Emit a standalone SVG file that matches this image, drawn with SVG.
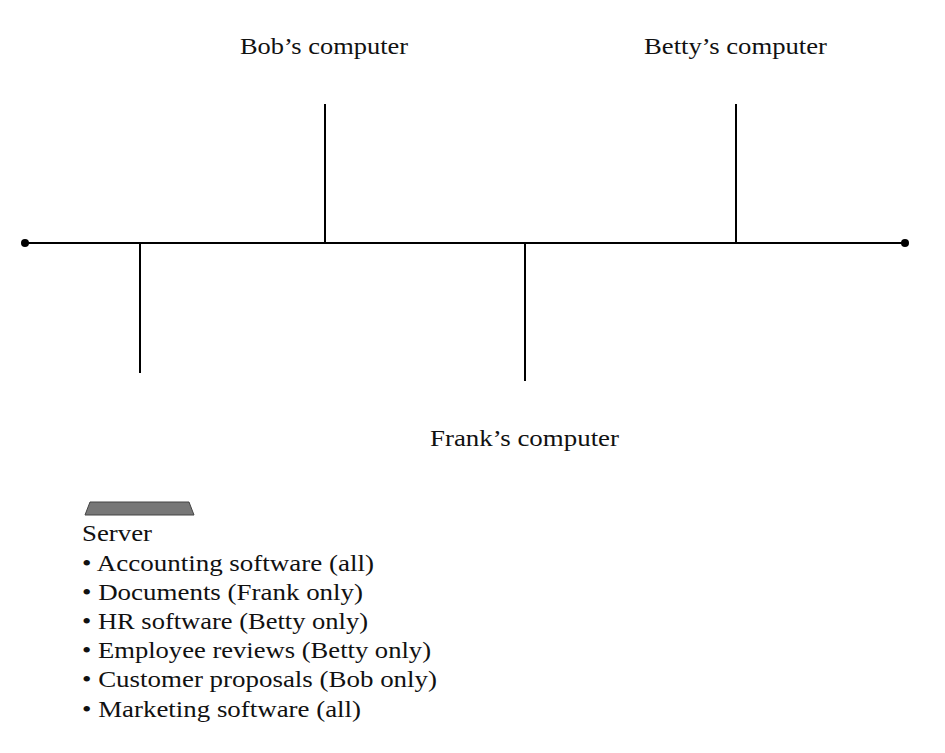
<svg xmlns="http://www.w3.org/2000/svg" width="945" height="753" viewBox="0 0 945 753">
<style>
text{font-family:"Liberation Serif",serif;font-size:23px;fill:#111}
line{stroke:#000;stroke-width:2}
</style>
<rect width="945" height="753" fill="#fff"/>
<g id="connectors">
<line x1="25" y1="243" x2="905" y2="243"/>
<line x1="325" y1="104" x2="325" y2="243"/>
<line x1="736" y1="104" x2="736" y2="243"/>
<line x1="140" y1="243" x2="140" y2="373"/>
<line x1="525" y1="243" x2="525" y2="381"/>
<circle cx="25" cy="243" r="4"/>
<circle cx="905" cy="243" r="4"/>
</g>
<g id="bob"><text x="240" y="54" textLength="168" lengthAdjust="spacingAndGlyphs">Bob’s computer</text></g>
<g id="betty"><text x="644" y="54" textLength="183" lengthAdjust="spacingAndGlyphs">Betty’s computer</text></g>
<g id="frank"><text x="430" y="446" textLength="189" lengthAdjust="spacingAndGlyphs">Frank’s computer</text></g>
<g id="server">
<polygon points="90,502 189,502 194,515 85,515" fill="#777" stroke="#444" stroke-width="1"/>
<text x="82" y="541" textLength="70" lengthAdjust="spacingAndGlyphs">Server</text>
<text x="82" y="571" textLength="292" lengthAdjust="spacingAndGlyphs">• Accounting software (all)</text>
<text x="82" y="600" textLength="281" lengthAdjust="spacingAndGlyphs">• Documents (Frank only)</text>
<text x="82" y="629" textLength="286" lengthAdjust="spacingAndGlyphs">• HR software (Betty only)</text>
<text x="82" y="658" textLength="349" lengthAdjust="spacingAndGlyphs">• Employee reviews (Betty only)</text>
<text x="82" y="687" textLength="355" lengthAdjust="spacingAndGlyphs">• Customer proposals (Bob only)</text>
<text x="82" y="717" textLength="279" lengthAdjust="spacingAndGlyphs">• Marketing software (all)</text>
</g>
</svg>
